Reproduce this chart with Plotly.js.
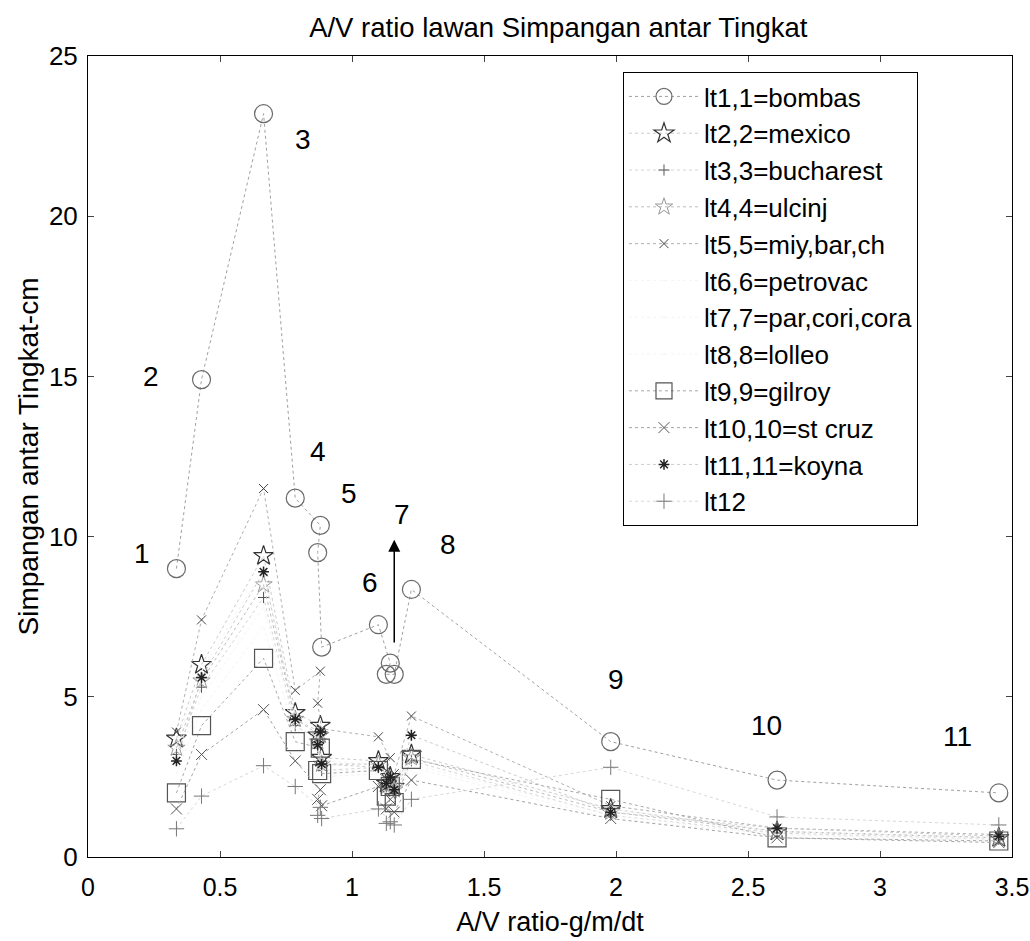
<!DOCTYPE html>
<html><head><meta charset="utf-8">
<script src="https://cdn.plot.ly/plotly-3.0.1.min.js"></script>
<style>body{margin:0;background:#fff}#chart{width:1030px;height:941px}</style>
</head><body><div id="chart"></div>
<script>
// A/V ratio of each record (x axis)
const avRatio = [0.335, 0.43, 0.665, 0.785, 0.88, 0.87, 0.885, 1.10, 1.145, 1.13, 1.16, 1.225, 1.98, 2.61, 3.45];

// storey drift (cm) per level
const lt1  = [9.0, 14.9, 23.2, 11.2, 10.35, 9.5, 6.55, 7.25, 6.05, 5.7, 5.7, 8.35, 3.6, 2.4, 2.0];
const lt2  = [3.7, 6.0, 9.4, 4.5, 4.1, 3.8, 3.1, 3.0, 2.5, 2.3, 2.2, 3.2, 1.5, 0.8, 0.6];
const lt3  = [3.2, 5.3, 8.1, 4.1, 3.6, 3.4, 2.7, 2.8, 2.3, 2.1, 2.0, 3.0, 1.3, 0.75, 0.55];
const lt4  = [3.4, 5.5, 8.5, 4.3, 3.8, 3.6, 2.9, 2.9, 2.4, 2.2, 2.1, 3.1, 1.4, 0.8, 0.6];
const lt5  = [3.9, 7.4, 11.5, 5.2, 5.8, 4.8, 4.0, 3.75, 3.1, 2.7, 2.6, 4.4, 1.6, 0.9, 0.7];
const lt6  = [3.5, 5.8, 9.0, 4.4, 4.0, 3.7, 3.0, 2.9, 2.4, 2.2, 2.1, 3.1, 1.5, 0.8, 0.6];
const lt7  = [3.0, 5.0, 7.8, 4.0, 3.5, 3.3, 2.7, 2.7, 2.2, 2.0, 1.9, 2.9, 1.3, 0.7, 0.55];
const lt8  = [2.6, 4.6, 7.2, 3.8, 3.3, 3.1, 2.5, 2.6, 2.1, 1.9, 1.8, 2.8, 1.2, 0.7, 0.5];
const lt9  = [2.0, 4.1, 6.2, 3.6, 3.4, 2.7, 2.6, 2.7, 2.2, 1.9, 1.7, 3.05, 1.8, 0.6, 0.5];
const lt10 = [1.5, 3.2, 4.6, 3.0, 2.1, 1.8, 1.6, 2.2, 1.8, 1.5, 1.4, 2.4, 1.2, 0.6, 0.45];
const lt11 = [3.0, 5.6, 8.9, 4.3, 3.9, 3.5, 2.9, 2.8, 2.5, 2.3, 2.1, 3.8, 1.4, 0.9, 0.65];
const lt12 = [0.88, 1.9, 2.85, 2.2, 1.55, 1.3, 1.2, 1.5, 1.1, 1.05, 1.0, 1.8, 2.8, 1.25, 1.0];

const seriesNames = ['lt1,1=bombas', 'lt2,2=mexico', 'lt3,3=bucharest', 'lt4,4=ulcinj',
  'lt5,5=miy,bar,ch', 'lt6,6=petrovac', 'lt7,7=par,cori,cora', 'lt8,8=lolleo',
  'lt9,9=gilroy', 'lt10,10=st cruz', 'lt11,11=koyna', 'lt12'];
const seriesValues = [lt1, lt2, lt3, lt4, lt5, lt6, lt7, lt8, lt9, lt10, lt11, lt12];

// record number labels
const recordLabels = ['1', '2', '3', '4', '5', '6', '7', '8', '9', '10', '11'];
const labelPosX = [0.205, 0.24, 0.815, 0.87, 0.99, 1.07, 1.19, 1.365, 2.0, 2.57, 3.295];
const labelPosY = [9.47, 15.0, 22.4, 12.66, 11.34, 8.56, 10.7, 9.75, 5.53, 4.12, 3.75];

// styles
const styles = [
  {symbol: 'circle-open', size: 18, mc: '#6a6a6a', lc: '#a0a0a0', mw: 1.2},
  {symbol: 'star-open', size: 15, mc: '#333', lc: '#cccccc', mw: 1.2},
  {symbol: 'cross-thin-open', size: 8, mc: '#555', lc: '#d4d4d4', mw: 1},
  {symbol: 'star-open', size: 13, mc: '#999', lc: '#bdbdbd', mw: 1},
  {symbol: 'x-thin-open', size: 9, mc: '#444', lc: '#b0b0b0', mw: 1},
  {symbol: 'circle', size: 1, mc: '#f4f4f4', lc: '#f4f4f4', mw: 0},
  {symbol: 'circle', size: 1, mc: '#f4f4f4', lc: '#f4f4f4', mw: 0},
  {symbol: 'circle', size: 1, mc: '#f4f4f4', lc: '#f4f4f4', mw: 0},
  {symbol: 'square-open', size: 18, mc: '#555', lc: '#a8a8a8', mw: 1.2},
  {symbol: 'x-thin-open', size: 11, mc: '#555', lc: '#a4a4a4', mw: 1},
  {symbol: 'asterisk-open', size: 9, mc: '#222', lc: '#cccccc', mw: 1.5},
  {symbol: 'cross-thin-open', size: 11, mc: '#777', lc: '#d8d8d8', mw: 1}
];

const traces = seriesValues.map((vals, i) => ({
  type: 'scatter', mode: 'lines+markers', name: seriesNames[i],
  x: avRatio, y: vals, legendgroup: 'g' + i,
  line: {color: styles[i].lc, width: 1, dash: 'dot'},
  marker: {symbol: styles[i].symbol, size: styles[i].size, color: styles[i].mc,
           line: {color: styles[i].mc, width: styles[i].mw}}
}));

const font = 'Liberation Sans, Arial, sans-serif';
const annotations = recordLabels.map((t, i) => ({
  x: labelPosX[i], y: labelPosY[i], xref: 'x', yref: 'y', text: t, showarrow: false,
  font: {family: font, size: 28, color: '#000'}
}));
annotations.push({
  x: 1.16, y: 9.9, ax: 1.16, ay: 6.65, xref: 'x', yref: 'y', axref: 'x', ayref: 'y',
  text: '', showarrow: true, arrowhead: 2, arrowsize: 1.6, arrowwidth: 1.5, arrowcolor: '#000'
});

const layout = {
  width: 1030, height: 941,
  paper_bgcolor: '#fff', plot_bgcolor: '#fff',
  margin: {l: 88, r: 18, t: 56, b: 84},
  font: {family: font, color: '#000'},
  title: {text: 'A/V ratio lawan Simpangan antar Tingkat', font: {family: font, size: 27.5, color: '#000'},
          x: 0.509, xref: 'paper', y: 0.971, yref: 'container', xanchor: 'center', yanchor: 'middle'},
  xaxis: {range: [0, 3.5], dtick: 0.5, tick0: 0, ticks: 'inside', ticklen: 6, mirror: 'ticks',
          showline: true, linecolor: '#000', linewidth: 1, showgrid: false, zeroline: false,
          tickfont: {size: 25, color: '#000'}, ticklabelstandoff: 8, ticklabeloverflow: 'allow',
          title: {text: 'A/V ratio-g/m/dt', font: {size: 27, color: '#000'}, standoff: 12}},
  yaxis: {range: [0, 25], dtick: 5, tick0: 0, ticks: 'inside', ticklen: 6, mirror: 'ticks',
          showline: true, linecolor: '#000', linewidth: 1, showgrid: false, zeroline: false,
          tickfont: {size: 26, color: '#000'}, ticklabelstandoff: 4, ticklabeloverflow: 'allow',
          title: {text: 'Simpangan antar Tingkat-cm', font: {size: 28, color: '#000'}, standoff: 2}},
  legend: {x: 0.579, y: 0.98, xanchor: 'left', yanchor: 'top', bgcolor: '#fff',
           bordercolor: '#000', borderwidth: 1, font: {family: font, size: 26, color: '#000'},
           itemwidth: 70, tracegroupgap: 0, traceorder: 'normal'},
  annotations: annotations,
  showlegend: true
};

Plotly.newPlot('chart', traces, layout, {displayModeBar: false, staticPlot: true});
</script>
</body></html>
